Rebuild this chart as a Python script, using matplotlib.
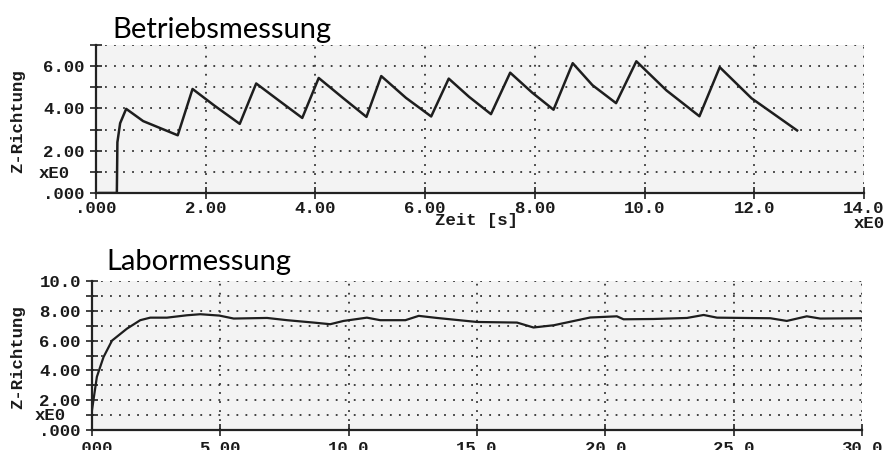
import matplotlib
matplotlib.use("Agg")
import matplotlib.pyplot as plt
from matplotlib.ticker import FixedLocator, FixedFormatter, NullFormatter

# ---------------- data ----------------
top_t = [0.05, 0.38, 0.39, 0.44, 0.55, 0.86, 1.49, 1.76, 2.15, 2.62, 2.92, 3.32, 3.76,
         4.06, 4.5, 4.93, 5.2, 5.65, 6.11, 6.43, 6.8, 7.2, 7.55, 7.95, 8.34, 8.69,
         9.05, 9.48, 9.85, 10.4, 11.0, 11.37, 11.95, 12.78]
top_z = [0.0, 0.0, 2.4, 3.3, 3.98, 3.4, 2.73, 4.92, 4.15, 3.27, 5.18, 4.4, 3.55,
         5.44, 4.5, 3.6, 5.53, 4.5, 3.62, 5.41, 4.55, 3.73, 5.69, 4.75, 3.94, 6.14,
         5.1, 4.25, 6.23, 4.85, 3.63, 5.95, 4.48, 2.96]

bot_t = [0.0, 0.19, 0.45, 0.78, 1.36, 1.88, 2.27, 2.92, 3.7, 4.22, 4.96, 5.52, 6.82,
         7.6, 8.63, 9.28, 9.8, 10.71, 11.23, 12.21, 12.73, 13.44, 15.0, 16.56, 17.2,
         17.99, 19.41, 20.45, 20.71, 21.88, 23.18, 23.83, 24.35, 26.43, 27.07, 27.85,
         28.37, 30.0]
bot_z = [1.34, 3.57, 4.9, 6.0, 6.8, 7.37, 7.54, 7.54, 7.7, 7.77, 7.68, 7.48, 7.52,
         7.37, 7.21, 7.1, 7.32, 7.54, 7.37, 7.37, 7.66, 7.52, 7.25, 7.21, 6.88,
         7.03, 7.55, 7.63, 7.43, 7.45, 7.52, 7.72, 7.54, 7.5, 7.32, 7.63, 7.48, 7.5]

top_xticks = [0, 2, 4, 6, 8, 10, 12, 14]
top_xlabels = [".000", "2.00", "4.00", "6.00", "8.00", "10.0", "12.0", "14.0"]
top_yticks = [0, 2, 4, 6]
top_ylabels = [".000", "2.00", "4.00", "6.00"]
top_yminor = [1, 3, 5, 7]

bot_xticks = [0, 5, 10, 15, 20, 25, 30]
bot_xlabels = [".000", "5.00", "10.0", "15.0", "20.0", "25.0", "30.0"]
bot_yticks = [0, 2, 4, 6, 8, 10]
bot_ylabels = [".000", "2.00", "4.00", "6.00", "8.00", "10.0"]
bot_yminor = [1, 3, 5, 7, 9]

title_top = "Betriebsmessung"
title_bot = "Labormessung"
ylabel = "Z-Richtung"
xlabel = "Zeit [s]"
exp_label = "xE0"

# ---------------- style ----------------
W, H = 887, 450
mono = dict(family="Liberation Mono", weight="bold", size=12.5, color="#1a1a1a")
dark = "#222222"

fig = plt.figure(figsize=(W / 100, H / 100), dpi=100)
fig.patch.set_facecolor("white")


def px(x, y):
    return x / W, 1 - y / H


def make_axes(l, t, r, b):
    x0, y1 = px(l, t)
    x1, y0 = px(r, b)
    return fig.add_axes([x0, y0, x1 - x0, y1 - y0])


def style(ax, xt, xl, yt, yl, ym, xlim, ylim, xpad):
    ax.set_facecolor("#f3f3f3")
    ax.set_xlim(*xlim)
    ax.set_ylim(*ylim)
    ax.xaxis.set_major_locator(FixedLocator(xt))
    ax.xaxis.set_major_formatter(FixedFormatter(xl))
    ax.yaxis.set_major_locator(FixedLocator(yt))
    ax.yaxis.set_major_formatter(FixedFormatter(yl))
    ax.yaxis.set_minor_locator(FixedLocator(ym))
    ax.yaxis.set_minor_formatter(NullFormatter())
    for s in ("top", "right"):
        ax.spines[s].set_visible(False)
    for s in ("left", "bottom"):
        ax.spines[s].set_linewidth(1.6)
        ax.spines[s].set_color(dark)
    ax.tick_params(which="both", direction="inout", length=8, width=1.2,
                   color=dark)
    ax.tick_params(axis="x", which="both", pad=xpad)
    ax.tick_params(axis="y", which="both", pad=4)
    for lab in ax.get_xticklabels() + ax.get_yticklabels():
        lab.set_family(mono["family"])
        lab.set_weight(mono["weight"])
        lab.set_size(mono["size"])
        lab.set_color(mono["color"])
    grid_kw = dict(color="#333333", linestyle=(0, (1, 4)), linewidth=1.3)
    ax.grid(True, axis="x", which="major", **grid_kw)
    ax.grid(True, axis="y", which="both", **grid_kw)
    ax.set_axisbelow(True)


# ---- top chart ----
ax1 = make_axes(96, 45, 864, 193)
style(ax1, top_xticks, top_xlabels, top_yticks, top_ylabels, top_yminor,
      (0, 14), (0, 7), 1.5)
ax1.plot(top_t, top_z, color="#1e1e1e", linewidth=1.8, solid_joinstyle="round")

# ---- bottom chart ----
ax2 = make_axes(92, 281, 862, 430)
style(ax2, bot_xticks, bot_xlabels, bot_yticks, bot_ylabels, bot_yminor,
      (0, 30), (0, 10), 4)
ax2.plot(bot_t, bot_z, color="#1e1e1e", linewidth=1.6, solid_joinstyle="round")

# ---- text ----
tfont = dict(family="Lato", size=21, color="black")
fig.text(*px(112, 38), title_top, ha="left", va="baseline", **tfont)
fig.text(*px(106, 270), title_bot, ha="left", va="baseline", **tfont)

fig.text(*px(18, 121), ylabel, rotation=90, ha="center", va="center", **mono)
fig.text(*px(18, 357), ylabel, rotation=90, ha="center", va="center", **mono)

fig.text(*px(477, 220), xlabel, ha="center", va="center", **mono)
fig.text(*px(869, 223), exp_label, ha="center", va="center", **mono)
fig.text(*px(54, 174), exp_label, ha="center", va="center", **mono)
fig.text(*px(50, 416), exp_label, ha="center", va="center", **mono)

fig.savefig("out.png", dpi=100, facecolor="white")
